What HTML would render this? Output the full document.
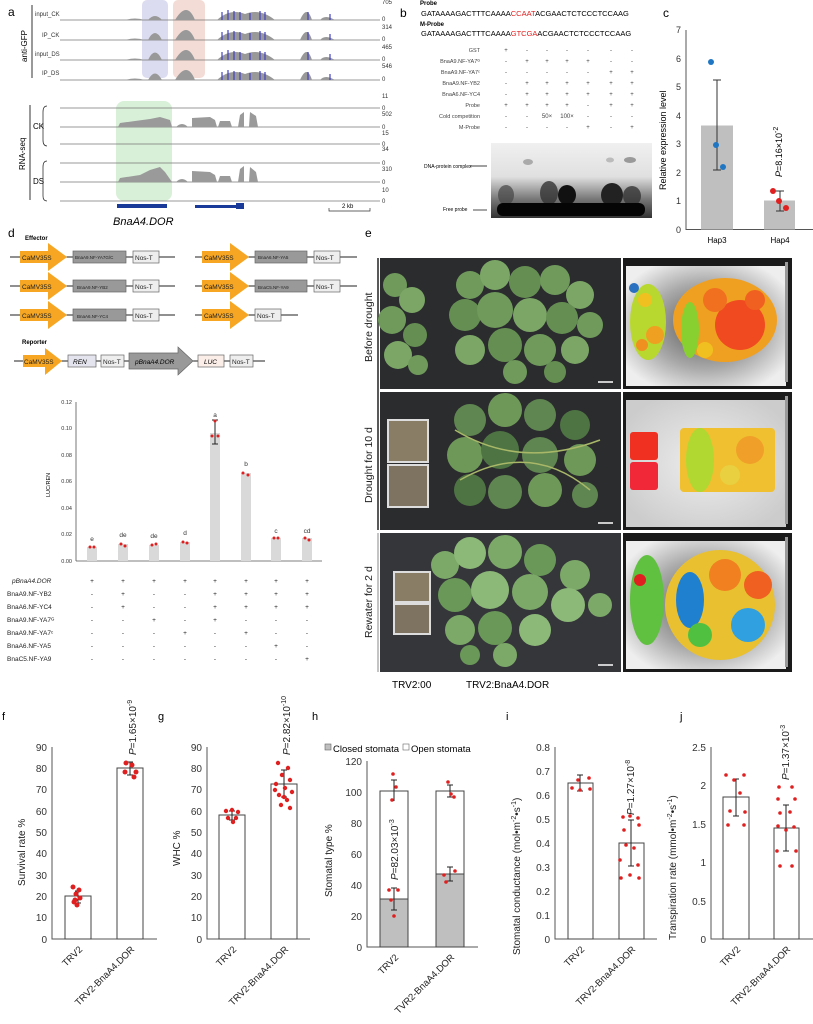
<!DOCTYPE html>
<html><head><meta charset="utf-8"><style>
body{margin:0;background:#fff;}
svg{display:block;font-family:"Liberation Sans",Arial,sans-serif;}
</style></head><body>
<svg width="813" height="1024" viewBox="0 0 813 1024" xmlns="http://www.w3.org/2000/svg">
<defs>
<radialGradient id="hm" cx="50%" cy="50%" r="60%"><stop offset="0" stop-color="#555"/><stop offset="0.6" stop-color="#aaa"/><stop offset="1" stop-color="#eee"/></radialGradient>
<radialGradient id="hm2" cx="50%" cy="50%" r="60%"><stop offset="0" stop-color="#eee"/><stop offset="1" stop-color="#ccc"/></radialGradient>
<linearGradient id="gel" x1="0" y1="0" x2="0" y2="1"><stop offset="0" stop-color="#f0f0f0"/><stop offset="0.45" stop-color="#e0e0e0"/><stop offset="0.75" stop-color="#777"/><stop offset="1" stop-color="#333"/></linearGradient>
</defs>
<!-- PANEL a -->
<text x="8" y="16" font-size="12">a</text>
<rect x="142" y="0" width="26" height="78" rx="5" fill="#dcdcf0"/>
<rect x="173" y="0" width="32" height="78" rx="5" fill="#f4dcd6"/>
<line x1="32" y1="5" x2="32" y2="78" stroke="#333"/>
<text transform="translate(27,62) rotate(-90)" font-size="8">anti-GFP</text>
<g font-size="6" fill="#333">
<text x="35" y="16">input_CK</text><text x="42" y="37">IP_CK</text><text x="35" y="56">input_DS</text><text x="42" y="75">IP_DS</text>
<text x="382" y="4">705</text><text x="382" y="21">0</text><text x="382" y="29">314</text><text x="382" y="41">0</text><text x="382" y="49">465</text><text x="382" y="61">0</text><text x="382" y="68">546</text><text x="382" y="81">0</text>
</g>
<g stroke="#777" stroke-width="0.8">
<line x1="60" y1="20" x2="380" y2="20"/><line x1="60" y1="40" x2="380" y2="40"/><line x1="60" y1="60" x2="380" y2="60"/><line x1="60" y1="80" x2="380" y2="80"/>
</g>
<g fill="#999">
<path d="M125,20 Q135,17 145,20Z M148,20 Q155,12 162,20Z M175,20 Q187,0 195,20Z M217,20 Q230,8 245,14 Q260,8 275,20Z M300,20 Q307,4 312,20Z M320,20 Q325,14 335,20Z"/>
<path d="M125,40 Q135,37 145,40Z M148,40 Q155,26 162,40Z M175,40 Q187,20 195,40Z M217,40 Q230,28 245,34 Q260,28 275,40Z M300,40 Q307,24 312,40Z M320,40 Q325,34 335,40Z"/>
<path d="M125,60 Q135,57 145,60Z M148,60 Q155,45 162,60Z M175,60 Q187,40 195,60Z M217,60 Q230,48 245,54 Q260,48 275,60Z M300,60 Q307,44 312,60Z M320,60 Q325,54 335,60Z"/>
<path d="M125,80 Q135,77 145,80Z M148,80 Q155,67 162,80Z M175,80 Q187,60 195,80Z M217,80 Q230,68 245,74 Q260,68 275,80Z M300,80 Q307,64 312,80Z M320,80 Q325,74 335,80Z"/>
</g>
<g stroke="#4040c0" stroke-width="1.2">
<path d="M222,20V12M228,20V10M234,20V11M240,20V12M250,20V13M260,20V11M265,20V12M308,20V12M330,20V14 M222,40V32M228,40V30M234,40V31M240,40V32M250,40V33M260,40V31M265,40V32M308,40V32M330,40V34 M222,60V52M228,60V50M234,60V51M240,60V52M250,60V53M260,60V51M265,60V52M308,60V52M330,60V54 M222,80V72M228,80V70M234,80V71M240,80V72M250,80V73M260,80V71M265,80V72M308,80V72M330,80V74"/>
</g>
<rect x="116" y="101" width="56" height="100" rx="8" fill="#d8f0d8"/>
<line x1="30" y1="105" x2="30" y2="200" stroke="#333"/>
<text transform="translate(25,170) rotate(-90)" font-size="8">RNA-seq</text>
<text x="33" y="129" font-size="8">CK</text><text x="33" y="184" font-size="8">DS</text>
<path d="M47,106 Q43,106 43,112 V140 Q43,146 47,146 M47,161 Q43,161 43,167 V196 Q43,201 47,201" fill="none" stroke="#333" stroke-width="0.8"/>
<g stroke="#777" stroke-width="0.8">
<line x1="60" y1="108" x2="380" y2="108"/><line x1="60" y1="127" x2="380" y2="127"/><line x1="60" y1="144" x2="380" y2="144"/><line x1="60" y1="163" x2="380" y2="163"/><line x1="60" y1="182" x2="380" y2="182"/><line x1="60" y1="201" x2="380" y2="201"/>
</g>
<g fill="#9a9a9a">
<path d="M118,127 L120,123 135,121 150,119 160,117 170,120 172,127Z M176,127 Q182,121 188,127Z M192,127 L192,118 210,117 215,120 217,127Z M218,127 L220,121 230,121 232,127Z M238,127 L240,115 244,112 244,127Z M249,127 L250,112 256,116 258,127Z"/>
<path d="M118,182 L120,178 140,175 150,170 160,167 165,172 172,182Z M176,182 Q182,176 188,182Z M192,182 L192,171 210,172 215,175 217,182Z M218,182 L220,176 230,176 232,182Z M238,182 L240,169 244,166 244,182Z M249,182 L250,167 256,172 258,182Z"/>
</g>
<g font-size="6" fill="#333"><text x="382" y="98">11</text><text x="382" y="110">0</text><text x="382" y="116">502</text><text x="382" y="129">0</text><text x="382" y="135">15</text><text x="382" y="146">0</text><text x="382" y="151">34</text><text x="382" y="165">0</text><text x="382" y="171">310</text><text x="382" y="184">0</text><text x="382" y="192">10</text><text x="382" y="203">0</text></g>
<rect x="117" y="204" width="50" height="4" fill="#1a3a9a"/><rect x="195" y="205" width="45" height="3" fill="#1a3a9a"/><rect x="236" y="203" width="8" height="6" fill="#1a3a9a"/>
<text x="113" y="225" font-size="11" font-style="italic">BnaA4.DOR</text>
<path d="M329,208V211H370V208" fill="none" stroke="#333" stroke-width="0.7"/><text x="342" y="208" font-size="6">2 kb</text>

<!-- PANEL b -->
<text x="400" y="17" font-size="12">b</text>
<text x="420" y="5" font-size="6" font-weight="bold">Probe</text>
<text x="421" y="16" font-size="7.5">GATAAAAGACTTTCAAAA<tspan fill="#e02020">CCAAT</tspan>ACGAACTCTCCCTCCAAG</text>
<text x="420" y="26" font-size="6" font-weight="bold">M-Probe</text>
<text x="421" y="36" font-size="7.5">GATAAAAGACTTTCAAAA<tspan fill="#e02020">GTCGA</tspan>ACGAACTCTCCCTCCAAG</text>
<g font-size="5.5" fill="#444" text-anchor="end">
<text x="480" y="52">GST</text><text x="480" y="63">BnaA9.NF-YA7ᴳ</text><text x="480" y="74">BnaA9.NF-YA7ᶜ</text><text x="480" y="85">BnaA9.NF-YB2</text><text x="480" y="96">BnaA6.NF-YC4</text><text x="480" y="107">Probe</text><text x="480" y="118">Cold competition</text><text x="480" y="129">M-Probe</text>
</g>
<g font-size="6" fill="#444" text-anchor="middle">
<text x="506" y="52">+</text><text x="527" y="52">-</text><text x="547" y="52">-</text><text x="567" y="52">-</text><text x="588" y="52">-</text><text x="611" y="52">-</text><text x="632" y="52">-</text>
<text x="506" y="63">-</text><text x="527" y="63">+</text><text x="547" y="63">+</text><text x="567" y="63">+</text><text x="588" y="63">+</text><text x="611" y="63">-</text><text x="632" y="63">-</text>
<text x="506" y="74">-</text><text x="527" y="74">-</text><text x="547" y="74">-</text><text x="567" y="74">-</text><text x="588" y="74">-</text><text x="611" y="74">+</text><text x="632" y="74">+</text>
<text x="506" y="85">-</text><text x="527" y="85">+</text><text x="547" y="85">+</text><text x="567" y="85">+</text><text x="588" y="85">+</text><text x="611" y="85">+</text><text x="632" y="85">+</text>
<text x="506" y="96">-</text><text x="527" y="96">+</text><text x="547" y="96">+</text><text x="567" y="96">+</text><text x="588" y="96">+</text><text x="611" y="96">+</text><text x="632" y="96">+</text>
<text x="506" y="107">+</text><text x="527" y="107">+</text><text x="547" y="107">+</text><text x="567" y="107">+</text><text x="588" y="107">-</text><text x="611" y="107">+</text><text x="632" y="107">+</text>
<text x="506" y="118">-</text><text x="527" y="118">-</text><text x="547" y="118">50×</text><text x="567" y="118">100×</text><text x="588" y="118">-</text><text x="611" y="118">-</text><text x="632" y="118">-</text>
<text x="506" y="129">-</text><text x="527" y="129">-</text><text x="547" y="129">-</text><text x="567" y="129">-</text><text x="588" y="129">+</text><text x="611" y="129">-</text><text x="632" y="129">+</text>
</g>
<rect x="491" y="143" width="161" height="75" fill="url(#gel)"/>
<ellipse cx="506" cy="195" rx="8" ry="10" fill="#444" opacity="0.7"/>
<ellipse cx="549" cy="193" rx="9" ry="12" fill="#333" opacity="0.8"/>
<ellipse cx="567" cy="195" rx="9" ry="10" fill="#111"/>
<ellipse cx="612" cy="195" rx="11" ry="12" fill="#222"/>
<ellipse cx="632" cy="196" rx="9" ry="10" fill="#333" opacity="0.8"/>
<rect x="497" y="203" width="148" height="13" rx="6" fill="#050505"/>
<ellipse cx="528" cy="162" rx="5" ry="3" fill="#aaa"/><ellipse cx="610" cy="160" rx="4" ry="2.5" fill="#bbb"/><ellipse cx="630" cy="160" rx="6" ry="3" fill="#999"/>
<text x="424" y="168" font-size="5">DNA-protein complex</text><line x1="470" y1="166" x2="487" y2="166" stroke="#000" stroke-width="0.7"/>
<text x="443" y="211" font-size="5">Free probe</text><line x1="473" y1="210" x2="487" y2="210" stroke="#000" stroke-width="0.7"/>

<!-- PANEL c -->
<text x="663" y="17" font-size="12">c</text>
<line x1="686" y1="30" x2="686" y2="230" stroke="#555"/>
<line x1="686" y1="229.5" x2="813" y2="229.5" stroke="#555"/>
<g font-size="9" text-anchor="end" fill="#333">
<text x="681" y="33">7</text><text x="681" y="62">6</text><text x="681" y="90">5</text><text x="681" y="119">4</text><text x="681" y="147">3</text><text x="681" y="176">2</text><text x="681" y="204">1</text><text x="681" y="233">0</text>
</g>
<rect x="701" y="125.5" width="32" height="104" fill="#bfbfbf"/>
<rect x="764" y="200.5" width="31" height="29" fill="#bfbfbf"/>
<path d="M717,80V170M713,80H721M713,170H721 M780,191V211M776,191H784M776,211H784" stroke="#333" fill="none"/>
<circle cx="711" cy="62" r="3" fill="#1f77c4"/><circle cx="716" cy="145" r="3" fill="#1f77c4"/><circle cx="723" cy="167" r="3" fill="#1f77c4"/>
<circle cx="773" cy="191" r="3" fill="#e02020"/><circle cx="779" cy="201" r="3" fill="#e02020"/><circle cx="786" cy="208" r="3" fill="#e02020"/>
<text transform="translate(666,190) rotate(-90)" font-size="9">Relative expression level</text>
<text transform="translate(782,177) rotate(-90)" font-size="9"><tspan font-style="italic">P</tspan>=8.16×10<tspan dy="-4" font-size="7">-2</tspan></text>
<text x="717" y="243" font-size="8" text-anchor="middle">Hap3</text><text x="780" y="243" font-size="8" text-anchor="middle">Hap4</text>

<!-- PANEL d -->
<text x="8" y="237" font-size="12">d</text>
<text x="25" y="240" font-size="6" font-weight="bold">Effector</text>
<text x="22" y="344" font-size="6" font-weight="bold">Reporter</text>
<g stroke="#222" stroke-width="1">
<line x1="10" y1="257" x2="175" y2="257"/><line x1="10" y1="286" x2="175" y2="286"/><line x1="10" y1="315" x2="175" y2="315"/>
<line x1="195" y1="257" x2="357" y2="257"/><line x1="195" y1="286" x2="357" y2="286"/><line x1="195" y1="315" x2="298" y2="315"/>
<line x1="14" y1="361" x2="265" y2="361"/>
</g>
<g fill="#f6a623">
<path d="M20,251H48V243L67,257L48,271V263H20Z"/><path d="M20,280H48V272L67,286L48,300V292H20Z"/><path d="M20,309H48V301L67,315L48,329V321H20Z"/>
<path d="M202,251H230V243L249,257L230,271V263H202Z"/><path d="M202,280H230V272L249,286L230,300V292H202Z"/><path d="M202,309H230V301L249,315L230,329V321H202Z"/>
<path d="M23,355H45V348L62,361L45,375V367H23Z"/>
</g>
<g font-size="6.5" fill="#222"><text x="22" y="260">CaMV35S</text><text x="22" y="289">CaMV35S</text><text x="22" y="318">CaMV35S</text><text x="204" y="260">CaMV35S</text><text x="204" y="289">CaMV35S</text><text x="204" y="318">CaMV35S</text><text x="24" y="364">CaMV35S</text></g>
<g stroke="#666" stroke-width="0.7">
<rect x="73" y="251" width="53" height="12" fill="#999"/><rect x="73" y="280" width="53" height="12" fill="#999"/><rect x="73" y="309" width="53" height="12" fill="#999"/>
<rect x="255" y="251" width="52" height="12" fill="#999"/><rect x="255" y="280" width="52" height="12" fill="#999"/>
<rect x="133" y="251" width="26" height="12" fill="#eee"/><rect x="133" y="280" width="26" height="12" fill="#eee"/><rect x="133" y="309" width="26" height="12" fill="#eee"/>
<rect x="314" y="251" width="26" height="12" fill="#eee"/><rect x="314" y="280" width="26" height="12" fill="#eee"/><rect x="255" y="309" width="26" height="12" fill="#eee"/>
<rect x="68" y="355" width="28" height="12" fill="#e4e4ee"/><rect x="101" y="355" width="23" height="12" fill="#eee"/>
<path d="M129,353H178V347L193,361L178,375V369H129Z" fill="#999"/>
<rect x="198" y="355" width="26" height="12" fill="#fbeee8"/><rect x="230" y="355" width="23" height="12" fill="#eee"/>
</g>
<g font-size="4.5" fill="#222"><text x="75" y="259">BnaA9.NF-YA7G/C</text><text x="77" y="289">BnaA9.NF-YB2</text><text x="77" y="318">BnaA6.NF-YC4</text><text x="258" y="259">BnaA6.NF-YA5</text><text x="258" y="289">BnaC5.NF-YA9</text></g>
<g font-size="6.5" fill="#222"><text x="135" y="260">Nos-T</text><text x="135" y="289">Nos-T</text><text x="135" y="318">Nos-T</text><text x="316" y="260">Nos-T</text><text x="316" y="289">Nos-T</text><text x="257" y="318">Nos-T</text><text x="103" y="364">Nos-T</text><text x="232" y="364">Nos-T</text></g>
<g font-size="6.5" font-style="italic"><text x="73" y="364">REN</text><text x="135" y="364">pBnaA4.DOR</text><text x="204" y="364">LUC</text></g>
<!-- LUC chart -->
<line x1="76" y1="402" x2="76" y2="561" stroke="#555" stroke-width="0.8"/>
<line x1="76" y1="561" x2="322" y2="561" stroke="#555" stroke-width="0.8"/>
<g font-size="5.5" text-anchor="end" fill="#333"><text x="72" y="404">0.12</text><text x="72" y="430">0.10</text><text x="72" y="457">0.08</text><text x="72" y="483">0.06</text><text x="72" y="510">0.04</text><text x="72" y="536">0.02</text><text x="72" y="563">0.00</text></g>
<text transform="translate(50,497) rotate(-90)" font-size="5.5">LUC/REN</text>
<g fill="#d9d9d9">
<rect x="87" y="547" width="10" height="14"/><rect x="118" y="544" width="10" height="17"/><rect x="149" y="545" width="10" height="16"/><rect x="180" y="542" width="10" height="19"/>
<rect x="210" y="433" width="10" height="128"/><rect x="241" y="473" width="10" height="88"/><rect x="271" y="538" width="10" height="23"/><rect x="302" y="538" width="10" height="23"/>
</g>
<path d="M215,420V444M212,420H218M212,444H218" stroke="#222" fill="none"/>
<g fill="#e02020"><circle cx="90" cy="547" r="1.5"/><circle cx="94" cy="547" r="1.5"/><circle cx="121" cy="544" r="1.5"/><circle cx="125" cy="546" r="1.5"/><circle cx="152" cy="545" r="1.5"/><circle cx="156" cy="544" r="1.5"/><circle cx="183" cy="542" r="1.5"/><circle cx="187" cy="543" r="1.5"/><circle cx="215" cy="421" r="1.5"/><circle cx="212" cy="436" r="1.5"/><circle cx="218" cy="436" r="1.5"/><circle cx="243" cy="473" r="1.5"/><circle cx="248" cy="475" r="1.5"/><circle cx="274" cy="538" r="1.5"/><circle cx="278" cy="538" r="1.5"/><circle cx="305" cy="538" r="1.5"/><circle cx="309" cy="540" r="1.5"/></g>
<g font-size="6.5" text-anchor="middle" fill="#333"><text x="92" y="541">e</text><text x="123" y="537">de</text><text x="154" y="538">de</text><text x="185" y="535">d</text><text x="215" y="417">a</text><text x="246" y="466">b</text><text x="276" y="533">c</text><text x="307" y="533">cd</text></g>
<g font-size="6.5" fill="#222">
<text x="12" y="583" font-style="italic">pBnaA4.DOR</text><text x="7" y="596">BnaA9.NF-YB2</text><text x="7" y="609">BnaA6.NF-YC4</text><text x="7" y="622">BnaA9.NF-YA7ᴳ</text><text x="7" y="635">BnaA9.NF-YA7ᶜ</text><text x="7" y="648">BnaA6.NF-YA5</text><text x="7" y="661">BnaC5.NF-YA9</text>
</g>
<g font-size="6.5" text-anchor="middle" fill="#222">
<text x="92" y="583">+</text><text x="123" y="583">+</text><text x="154" y="583">+</text><text x="185" y="583">+</text><text x="215" y="583">+</text><text x="246" y="583">+</text><text x="276" y="583">+</text><text x="307" y="583">+</text>
<text x="92" y="596">-</text><text x="123" y="596">+</text><text x="154" y="596">-</text><text x="185" y="596">-</text><text x="215" y="596">+</text><text x="246" y="596">+</text><text x="276" y="596">+</text><text x="307" y="596">+</text>
<text x="92" y="609">-</text><text x="123" y="609">+</text><text x="154" y="609">-</text><text x="185" y="609">-</text><text x="215" y="609">+</text><text x="246" y="609">+</text><text x="276" y="609">+</text><text x="307" y="609">+</text>
<text x="92" y="622">-</text><text x="123" y="622">-</text><text x="154" y="622">+</text><text x="185" y="622">-</text><text x="215" y="622">+</text><text x="246" y="622">-</text><text x="276" y="622">-</text><text x="307" y="622">-</text>
<text x="92" y="635">-</text><text x="123" y="635">-</text><text x="154" y="635">-</text><text x="185" y="635">+</text><text x="215" y="635">-</text><text x="246" y="635">+</text><text x="276" y="635">-</text><text x="307" y="635">-</text>
<text x="92" y="648">-</text><text x="123" y="648">-</text><text x="154" y="648">-</text><text x="185" y="648">-</text><text x="215" y="648">-</text><text x="246" y="648">-</text><text x="276" y="648">+</text><text x="307" y="648">-</text>
<text x="92" y="661">-</text><text x="123" y="661">-</text><text x="154" y="661">-</text><text x="185" y="661">-</text><text x="215" y="661">-</text><text x="246" y="661">-</text><text x="276" y="661">-</text><text x="307" y="661">+</text>
</g>

<!-- PANEL e -->
<text x="365" y="237" font-size="12">e</text>
<line x1="378" y1="258" x2="378" y2="530" stroke="#222" stroke-width="1.5"/>
<line x1="378" y1="533" x2="378" y2="672" stroke="#888" stroke-width="1"/>
<g font-size="10.5" fill="#222"><text transform="translate(372,362) rotate(-90)">Before drought</text><text transform="translate(372,503) rotate(-90)">Drought for 10 d</text><text transform="translate(372,638) rotate(-90)">Rewater for 2 d</text></g>
<rect x="380" y="258" width="241" height="131" fill="#2b2c2e"/>
<rect x="380" y="392" width="241" height="138" fill="#2b2c2e"/>
<rect x="380" y="533" width="241" height="139" fill="#34363a"/>
<!-- row 1 leaves -->
<g fill="#6f9a5c">
<circle cx="395" cy="285" r="12"/><circle cx="412" cy="300" r="13" fill="#7ba666"/><circle cx="392" cy="320" r="14"/><circle cx="415" cy="335" r="12" fill="#658f52"/><circle cx="398" cy="355" r="14" fill="#7ba666"/><circle cx="418" cy="365" r="10"/>
<circle cx="470" cy="285" r="14"/><circle cx="495" cy="275" r="15" fill="#7ba666"/><circle cx="525" cy="282" r="16" fill="#658f52"/><circle cx="555" cy="280" r="15"/><circle cx="580" cy="295" r="14" fill="#7ba666"/>
<circle cx="465" cy="315" r="16" fill="#658f52"/><circle cx="495" cy="310" r="18"/><circle cx="530" cy="315" r="17" fill="#7ba666"/><circle cx="562" cy="318" r="16" fill="#658f52"/><circle cx="590" cy="325" r="13"/>
<circle cx="470" cy="350" r="15" fill="#7ba666"/><circle cx="505" cy="345" r="17" fill="#658f52"/><circle cx="540" cy="350" r="16"/><circle cx="575" cy="350" r="14" fill="#7ba666"/><circle cx="515" cy="372" r="12"/><circle cx="555" cy="372" r="11" fill="#658f52"/>
</g>
<!-- row 2 -->
<rect x="388" y="420" width="40" height="42" fill="#8a7d66" stroke="#ddd" stroke-width="2"/><rect x="388" y="465" width="40" height="42" fill="#7e7360" stroke="#ddd" stroke-width="2"/>
<g fill="#5f8550">
<circle cx="470" cy="420" r="16"/><circle cx="505" cy="410" r="17" fill="#6e9858"/><circle cx="540" cy="415" r="16"/><circle cx="575" cy="425" r="15" fill="#4e7443"/>
<circle cx="465" cy="455" r="18" fill="#6e9858"/><circle cx="500" cy="450" r="19" fill="#4e7443"/><circle cx="540" cy="455" r="18"/><circle cx="580" cy="460" r="16" fill="#6e9858"/>
<circle cx="470" cy="490" r="16" fill="#4e7443"/><circle cx="505" cy="492" r="17"/><circle cx="545" cy="490" r="17" fill="#6e9858"/><circle cx="585" cy="495" r="13"/>
</g>
<path d="M455,430 Q520,470 600,440 M460,480 Q530,440 590,490" stroke="#a8b868" stroke-width="1.5" fill="none"/>
<!-- row 3 -->
<rect x="394" y="572" width="36" height="30" fill="#8a7d66" stroke="#ddd" stroke-width="2"/><rect x="394" y="604" width="36" height="30" fill="#7e7360" stroke="#ddd" stroke-width="2"/>
<g fill="#7ca868">
<circle cx="445" cy="565" r="14"/><circle cx="470" cy="553" r="16" fill="#8cb878"/><circle cx="505" cy="552" r="17"/><circle cx="540" cy="560" r="16" fill="#6a9858"/><circle cx="575" cy="575" r="15"/>
<circle cx="455" cy="595" r="17" fill="#6a9858"/><circle cx="490" cy="590" r="19" fill="#8cb878"/><circle cx="530" cy="592" r="18"/><circle cx="568" cy="605" r="17" fill="#8cb878"/><circle cx="600" cy="605" r="12"/>
<circle cx="460" cy="630" r="15"/><circle cx="495" cy="628" r="17" fill="#6a9858"/><circle cx="535" cy="630" r="16" fill="#8cb878"/><circle cx="505" cy="655" r="12"/><circle cx="470" cy="655" r="10" fill="#6a9858"/>
</g>
<g stroke="#fff" stroke-width="1.5"><line x1="598" y1="382" x2="613" y2="382"/><line x1="598" y1="523" x2="613" y2="523"/><line x1="598" y1="665" x2="613" y2="665"/></g>
<!-- heatmaps -->
<rect x="623" y="258" width="169" height="131" fill="#1a1a1a"/>
<rect x="623" y="392" width="169" height="138" fill="#1a1a1a"/>
<rect x="623" y="533" width="169" height="139" fill="#1a1a1a"/>
<rect x="626" y="266" width="160" height="120" fill="url(#hm)"/>
<rect x="626" y="400" width="160" height="127" fill="url(#hm2)"/>
<rect x="626" y="541" width="160" height="128" fill="url(#hm)"/>
<g>
<ellipse cx="648" cy="322" rx="18" ry="38" fill="#b8d830"/><circle cx="645" cy="300" r="7" fill="#f0c020"/><circle cx="655" cy="335" r="9" fill="#f0a020"/><circle cx="642" cy="345" r="6" fill="#f09020"/><circle cx="634" cy="288" r="5" fill="#2a70c0"/>
<ellipse cx="725" cy="320" rx="52" ry="42" fill="#f0a020"/><circle cx="740" cy="325" r="25" fill="#f04a20"/><circle cx="715" cy="300" r="12" fill="#f07020"/><circle cx="755" cy="300" r="10" fill="#f06020"/><ellipse cx="690" cy="330" rx="9" ry="28" fill="#88d030"/><circle cx="705" cy="350" r="8" fill="#f0c020"/>
<rect x="630" y="432" width="28" height="28" rx="3" fill="#f03020"/><rect x="630" y="462" width="28" height="28" rx="3" fill="#f02838"/>
<rect x="680" y="428" width="95" height="64" rx="4" fill="#f0c030"/><ellipse cx="700" cy="460" rx="14" ry="32" fill="#b0d830"/><circle cx="750" cy="450" r="14" fill="#f0a028"/><circle cx="730" cy="475" r="10" fill="#e8d040"/>
<ellipse cx="647" cy="600" rx="17" ry="45" fill="#60c040"/><ellipse cx="720" cy="605" rx="55" ry="55" fill="#e8c030"/><circle cx="725" cy="575" r="16" fill="#f08020"/><circle cx="758" cy="585" r="14" fill="#f06020"/><ellipse cx="690" cy="600" rx="14" ry="28" fill="#2080d0"/><circle cx="748" cy="625" r="17" fill="#30a0e0"/><circle cx="700" cy="635" r="12" fill="#50c040"/><circle cx="640" cy="580" r="6" fill="#e02020"/>
</g>
<g><rect x="785" y="262" width="3" height="120" fill="#999"/><rect x="785" y="396" width="3" height="128" fill="#999"/><rect x="785" y="537" width="3" height="130" fill="#999"/></g>
<text x="392" y="688" font-size="10">TRV2:00</text><text x="466" y="688" font-size="10">TRV2:BnaA4.DOR</text>

<!-- BOTTOM PANELS -->
<g font-size="11"><text x="2" y="720">f</text><text x="158" y="720">g</text><text x="312" y="720">h</text><text x="506" y="720">i</text><text x="680" y="720">j</text></g>
<g stroke="#555" stroke-width="1" fill="none">
<path d="M52,747V939H157M207,747V939H310M367,761V947H478M555,747V939H657M711,747V939H813"/>
</g>
<g font-size="10" text-anchor="end" fill="#333">
<text x="47" y="943">0</text><text x="47" y="921">10</text><text x="47" y="900">20</text><text x="47" y="879">30</text><text x="47" y="857">40</text><text x="47" y="836">50</text><text x="47" y="815">60</text><text x="47" y="793">70</text><text x="47" y="772">80</text><text x="47" y="751">90</text>
<text x="202" y="943">0</text><text x="202" y="921">10</text><text x="202" y="900">20</text><text x="202" y="879">30</text><text x="202" y="857">40</text><text x="202" y="836">50</text><text x="202" y="815">60</text><text x="202" y="793">70</text><text x="202" y="772">80</text><text x="202" y="751">90</text>
<text x="362" y="951">0</text><text x="362" y="920">20</text><text x="362" y="889">40</text><text x="362" y="858">60</text><text x="362" y="827">80</text><text x="362" y="796">100</text><text x="362" y="765">120</text>
<text x="550" y="943">0</text><text x="550" y="919">0.1</text><text x="550" y="895">0.2</text><text x="550" y="871">0.3</text><text x="550" y="847">0.4</text><text x="550" y="823">0.5</text><text x="550" y="799">0.6</text><text x="550" y="775">0.7</text><text x="550" y="751">0.8</text>
<text x="706" y="943">0</text><text x="706" y="905">0.5</text><text x="706" y="866">1</text><text x="706" y="828">1.5</text><text x="706" y="789">2</text><text x="706" y="751">2.5</text>
</g>
<g stroke="#444" stroke-width="1" fill="#fff">
<rect x="65" y="896" width="26" height="43"/><rect x="117" y="768" width="26" height="171"/>
<rect x="219" y="815" width="26" height="124"/><rect x="271" y="784" width="26" height="155"/>
<rect x="380" y="791" width="28" height="156"/><rect x="436" y="791" width="28" height="156"/>
<rect x="568" y="783" width="25" height="156"/><rect x="619" y="843" width="25" height="96"/>
<rect x="723" y="797" width="26" height="142"/><rect x="774" y="828" width="25" height="111"/>
</g>
<rect x="380" y="899" width="28" height="48" fill="#bfbfbf" stroke="#444"/>
<rect x="436" y="874" width="28" height="73" fill="#bfbfbf" stroke="#444"/>
<g stroke="#222" fill="none">
<path d="M78,891V903M75,891H81M75,903H81 M130,762V775M127,762H133M127,775H133 M232,811V820M229,811H235M229,820H235 M284,770V797M281,770H287M281,797H287"/>
<path d="M394,780V801M391,780H397 M394,888V910M391,888H397M391,910H397 M450,785V797M447,785H453M447,797H453 M450,867V881M447,867H453M447,881H453"/>
<path d="M580,775V791M577,775H583M577,791H583 M631,820V866M628,820H634M628,866H634 M736,779V816M733,779H739M733,816H739 M786,805V851M783,805H789M783,851H789"/>
</g>
<g fill="#e02020">
<circle cx="73" cy="887" r="2.5"/><circle cx="79" cy="890" r="2.5"/><circle cx="76" cy="894" r="2.5"/><circle cx="80" cy="898" r="2.5"/><circle cx="74" cy="902" r="2.5"/><circle cx="77" cy="905" r="2.5"/><circle cx="75" cy="900" r="2.5"/>
<circle cx="126" cy="763" r="2.5"/><circle cx="132" cy="765" r="2.5"/><circle cx="136" cy="772" r="2.5"/><circle cx="125" cy="772" r="2.5"/><circle cx="134" cy="777" r="2.5"/>
<circle cx="226" cy="811" r="2.2"/><circle cx="232" cy="810" r="2.2"/><circle cx="238" cy="812" r="2.2"/><circle cx="228" cy="818" r="2.2"/><circle cx="236" cy="818" r="2.2"/><circle cx="233" cy="822" r="2.2"/>
<circle cx="278" cy="763" r="2.2"/><circle cx="288" cy="768" r="2.2"/><circle cx="282" cy="775" r="2.2"/><circle cx="290" cy="780" r="2.2"/><circle cx="276" cy="784" r="2.2"/><circle cx="285" cy="788" r="2.2"/><circle cx="292" cy="792" r="2.2"/><circle cx="279" cy="795" r="2.2"/><circle cx="287" cy="800" r="2.2"/><circle cx="281" cy="805" r="2.2"/><circle cx="290" cy="808" r="2.2"/><circle cx="284" cy="797" r="2.2"/><circle cx="275" cy="790" r="2.2"/>
<circle cx="393" cy="774" r="1.8"/><circle cx="396" cy="787" r="1.8"/><circle cx="392" cy="800" r="1.8"/><circle cx="389" cy="890" r="1.8"/><circle cx="398" cy="890" r="1.8"/><circle cx="391" cy="900" r="1.8"/><circle cx="394" cy="916" r="1.8"/>
<circle cx="448" cy="782" r="1.8"/><circle cx="451" cy="794" r="1.8"/><circle cx="454" cy="797" r="1.8"/><circle cx="444" cy="875" r="1.8"/><circle cx="455" cy="871" r="1.8"/><circle cx="446" cy="882" r="1.8"/>
<circle cx="578" cy="780" r="1.8"/><circle cx="589" cy="778" r="1.8"/><circle cx="572" cy="788" r="1.8"/><circle cx="580" cy="790" r="1.8"/><circle cx="590" cy="789" r="1.8"/>
<circle cx="623" cy="817" r="1.8"/><circle cx="630" cy="816" r="1.8"/><circle cx="638" cy="818" r="1.8"/><circle cx="624" cy="830" r="1.8"/><circle cx="639" cy="825" r="1.8"/><circle cx="626" cy="845" r="1.8"/><circle cx="634" cy="848" r="1.8"/><circle cx="620" cy="860" r="1.8"/><circle cx="638" cy="865" r="1.8"/><circle cx="630" cy="875" r="1.8"/><circle cx="621" cy="878" r="1.8"/><circle cx="639" cy="878" r="1.8"/>
<circle cx="726" cy="775" r="1.8"/><circle cx="744" cy="775" r="1.8"/><circle cx="734" cy="780" r="1.8"/><circle cx="740" cy="793" r="1.8"/><circle cx="730" cy="811" r="1.8"/><circle cx="745" cy="812" r="1.8"/><circle cx="728" cy="825" r="1.8"/><circle cx="744" cy="825" r="1.8"/>
<circle cx="779" cy="787" r="1.8"/><circle cx="792" cy="787" r="1.8"/><circle cx="778" cy="799" r="1.8"/><circle cx="795" cy="799" r="1.8"/><circle cx="780" cy="813" r="1.8"/><circle cx="790" cy="812" r="1.8"/><circle cx="778" cy="826" r="1.8"/><circle cx="794" cy="827" r="1.8"/><circle cx="786" cy="830" r="1.8"/><circle cx="777" cy="851" r="1.8"/><circle cx="796" cy="851" r="1.8"/><circle cx="780" cy="866" r="1.8"/><circle cx="792" cy="866" r="1.8"/>
</g>
<g font-size="10" fill="#222">
<text transform="translate(25,886) rotate(-90)">Survival rate %</text>
<text transform="translate(180,866) rotate(-90)">WHC %</text>
<text transform="translate(332,897) rotate(-90)">Stomatal type %</text>
<text transform="translate(520,955) rotate(-90)">Stomatal conductance (mol•m<tspan font-size="7" dy="-4">-2</tspan><tspan dy="4">•s</tspan><tspan font-size="7" dy="-4">-1</tspan><tspan dy="4">)</tspan></text>
<text transform="translate(676,940) rotate(-90)">Transpiration rate (mmol•m<tspan font-size="7" dy="-4">-2</tspan><tspan dy="4">•s</tspan><tspan font-size="7" dy="-4">-1</tspan><tspan dy="4">)</tspan></text>
<text transform="translate(136,755) rotate(-90)"><tspan font-style="italic">P</tspan>=1.65×10<tspan font-size="7" dy="-4">-9</tspan></text>
<text transform="translate(290,755) rotate(-90)"><tspan font-style="italic">P</tspan>=2.82×10<tspan font-size="7" dy="-4">-10</tspan></text>
<text transform="translate(398,880) rotate(-90)"><tspan font-style="italic">P</tspan>=82.03×10<tspan font-size="7" dy="-4">-3</tspan></text>
<text transform="translate(634,815) rotate(-90)"><tspan font-style="italic">P</tspan>=1.27×10<tspan font-size="7" dy="-4">-8</tspan></text>
<text transform="translate(789,780) rotate(-90)"><tspan font-style="italic">P</tspan>=1.37×10<tspan font-size="7" dy="-4">-3</tspan></text>
</g>
<g font-size="9.5">
<rect x="325" y="744" width="6" height="6" fill="#bfbfbf" stroke="#666" stroke-width="0.6"/><text x="333" y="752">Closed stomata</text>
<rect x="403" y="744" width="6" height="6" fill="#fff" stroke="#666" stroke-width="0.6"/><text x="411" y="752">Open stomata</text>
</g>
<g font-size="9.5" text-anchor="end" fill="#222">
<text transform="translate(83,950) rotate(-45)">TRV2</text><text transform="translate(135,950) rotate(-45)">TRV2-BnaA4.DOR</text>
<text transform="translate(237,950) rotate(-45)">TRV2</text><text transform="translate(289,950) rotate(-45)">TRV2-BnaA4.DOR</text>
<text transform="translate(399,958) rotate(-45)">TRV2</text><text transform="translate(455,958) rotate(-45)">TVR2-BnaA4.DOR</text>
<text transform="translate(585,950) rotate(-45)">TRV2</text><text transform="translate(636,950) rotate(-45)">TRV2-BnaA4.DOR</text>
<text transform="translate(741,950) rotate(-45)">TRV2</text><text transform="translate(791,950) rotate(-45)">TRV2-BnaA4.DOR</text>
</g>
</svg>
</body></html>
